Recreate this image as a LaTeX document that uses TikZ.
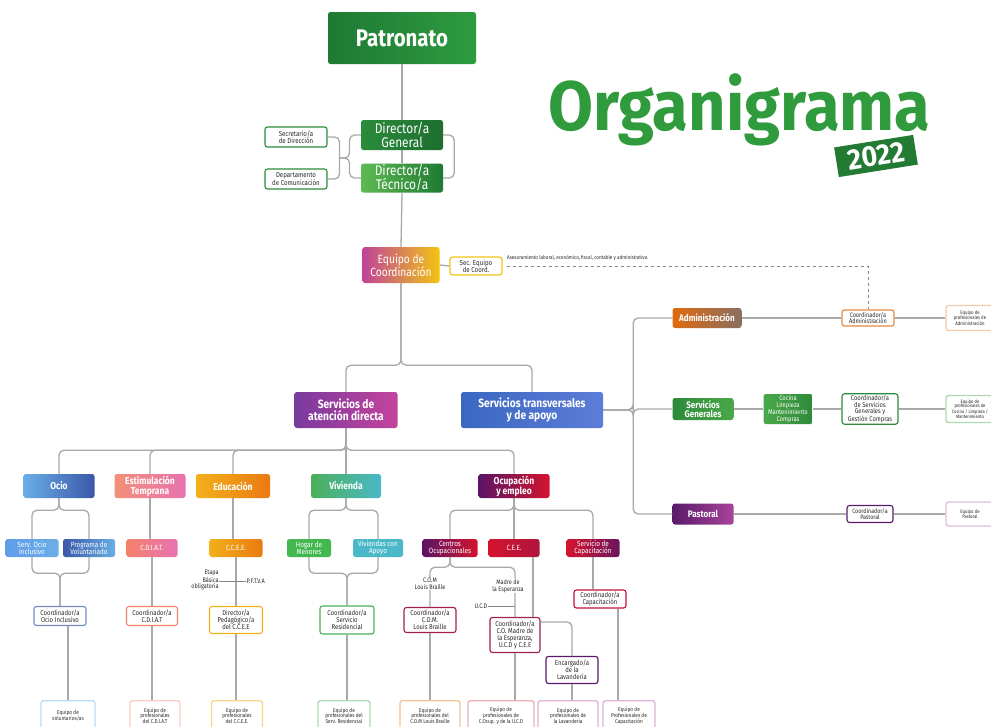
\documentclass[tikz,border=0pt]{standalone}
\usepackage{fontspec}
\setmainfont{Fira Sans}
\newfontfamily\cond[FakeStretch=0.85]{Fira Sans}
\newfontfamily\bigf[FakeStretch=0.93]{Fira Sans}
\usetikzlibrary{calc}
\definecolor{lineg}{HTML}{A9A9A9}
\definecolor{txt}{HTML}{2A2A2A}
\definecolor{patA}{HTML}{1E7A33}
\definecolor{patB}{HTML}{2E9B3F}
\definecolor{dgA}{HTML}{2A8C3B}
\definecolor{dgB}{HTML}{1E6E30}
\definecolor{dtA}{HTML}{5DBA52}
\definecolor{dtB}{HTML}{1F7A32}
\definecolor{orgG}{HTML}{2F9B3C}
\definecolor{yrG}{HTML}{237A32}
\definecolor{eqA}{HTML}{C0449A}
\definecolor{eqB}{HTML}{F2C412}
\definecolor{sadA}{HTML}{7A3A9E}
\definecolor{sadB}{HTML}{C4449C}
\definecolor{stA}{HTML}{3A68C0}
\definecolor{stB}{HTML}{5C7CD8}
\definecolor{admA}{HTML}{E06A10}
\definecolor{admB}{HTML}{8A6E62}
\definecolor{sgA}{HTML}{2E8A3A}
\definecolor{sgB}{HTML}{4AA84A}
\definecolor{pasA}{HTML}{5A1A6A}
\definecolor{pasB}{HTML}{A8449A}
\definecolor{ocA}{HTML}{6AAEE6}
\definecolor{ocB}{HTML}{3A58A8}
\definecolor{estA}{HTML}{F29078}
\definecolor{estB}{HTML}{E872B0}
\definecolor{eduA}{HTML}{F2B01A}
\definecolor{eduB}{HTML}{EA7A12}
\definecolor{vivA}{HTML}{4CAF5A}
\definecolor{vivB}{HTML}{4AB8C8}
\definecolor{ocuA}{HTML}{5A1466}
\definecolor{ocuB}{HTML}{D4142E}
\definecolor{redc}{HTML}{A02050}
\tikzset{
  conn/.style={draw=lineg, line width=1.3pt, rounded corners=5pt},
  hb/.style={rounded corners=2.5pt, text=white, align=center, inner sep=1pt},
  wb/.style={draw, fill=white, rounded corners=2.5pt, line width=1.1pt, align=center, inner sep=1pt, text=txt},
  eb/.style={wb, line width=1.4pt, anchor=north, minimum height=30, font=\cond\fontsize{5.6}{5.8}\selectfont},
  fh/.style={font=\cond\bfseries\fontsize{#1}{#1}\selectfont},
  fr/.style={font=\cond\fontsize{#1}{#1}\selectfont},
  lbl/.style={fill=white, inner sep=0.5pt, align=center, text=txt, font=\cond\fontsize{6.5}{6.5}\selectfont}
}
\begin{document}
\begin{tikzpicture}[x=1pt,y=-1pt]
\useasboundingbox (0,0) rectangle (991,726);
\fill[white] (0,0) rectangle (991,726);

% ---------- title
\node[text=orgG, font=\bigf\bfseries\fontsize{70}{70}\selectfont, anchor=base west, inner sep=0] (title) at (548,130) {Organigrama};
\node[fill=yrG, text=white, rotate=9, minimum width=80, minimum height=30, inner sep=0, font=\bigf\bfseries\fontsize{29}{29}\selectfont] (year) at (876,156) {2022};

% ---------- top
\node[hb, left color=patA, right color=patB, minimum width=148, minimum height=52, fh=24] (pat) at (402,38) {Patronato};
\node[hb, left color=dgA, right color=dgB, minimum width=82, minimum height=30, fr=14] (dg) at (402,135) {Director/a\\General};
\node[hb, left color=dtA, right color=dtB, minimum width=82, minimum height=29, fr=14] (dt) at (402,178) {Director/a\\Técnico/a};
\node[wb, draw=dgA, minimum width=62, minimum height=20, fr=7.2] (secr) at (296,137) {Secretario/a\\de Dirección};
\node[wb, draw=dgA, minimum width=62, minimum height=20, fr=7.2] (depto) at (296,179) {Departamento\\de Comunicación};

\node[hb, left color=eqA, right color=eqB, minimum width=77, minimum height=36, fr=12] (eqc) at (401,265) {Equipo de\\Coordinación};
\node[wb, draw=eqB, minimum width=52, minimum height=18, fr=7.2] (seceq) at (476,266) {Sec. Equipo\\de Coord.};
\node[anchor=west, inner sep=0, text=txt, font=\cond\fontsize{5.4}{5.4}\selectfont] (ases) at (507,258) {Asesoramiento laboral, económico, fiscal, contable y administrativo.};

\node[hb, left color=sadA, right color=sadB, minimum width=103, minimum height=36, fh=12] (sad) at (346,410) {Servicios de\\atención directa};
\node[hb, left color=stA, right color=stB, minimum width=142, minimum height=36, fh=12] (st) at (532,410) {Servicios transversales\\y de apoyo};

% ---------- right branch
\node[hb, left color=admA, right color=admB, minimum width=69, minimum height=20, fh=9.5] (adm) at (707,318) {Administración};
\node[wb, draw=admA!80, minimum width=52, minimum height=16, fr=6.5] (coordadm) at (868,318) {Coordinador/a\\Administración};
\node[wb, draw=admA!35, line width=1.4pt, minimum width=48, minimum height=25, fr=5] (eqadm) at (970,318) {Equipo de\\profesionales de\\Administración};

\node[hb, left color=sgA, right color=sgB, minimum width=61, minimum height=22, fh=9.5] (sg) at (703,409) {Servicios\\Generales};
\node[hb, left color=sgB, right color=sgA, minimum width=49, minimum height=30, fr=6.8] (coc) at (788,409) {Cocina\\Limpieza\\Mantenimiento\\Compras};
\node[wb, draw=sgA, minimum width=56, minimum height=30, fr=6.8] (coordsg) at (870,409) {Coordinador/a\\de Servicios\\Generales y\\Gestión Compras};
\node[wb, draw=sgB!45, line width=1.4pt, minimum width=48, minimum height=27, fr=4.8] (eqsg) at (970,409) {Equipo de\\profesionales de\\Cocina / Limpieza /\\Mantenimiento};

\node[hb, left color=pasA, right color=pasB, minimum width=61, minimum height=21, fh=9.5] (past) at (703,514) {Pastoral};
\node[wb, draw=pasA, minimum width=46, minimum height=17, fr=6.3] (coordpast) at (870,514) {Coordinador/a\\Pastoral};
\node[wb, draw=pasB!35, line width=1.4pt, minimum width=48, minimum height=24, fr=5] (eqpast) at (970,514) {Equipo de\\Pastoral};

% ---------- level 3
\node[hb, left color=ocA, right color=ocB, minimum width=71, minimum height=24, fh=10] (ocio) at (59,486) {Ocio};
\node[hb, left color=estA, right color=estB, minimum width=71, minimum height=24, fh=10] (est) at (150,486) {Estimulación\\Temprana};
\node[hb, left color=eduA, right color=eduB, minimum width=74, minimum height=24, fh=10] (edu) at (233,486) {Educación};
\node[hb, left color=vivA, right color=vivB, minimum width=70, minimum height=24, fh=10] (viv) at (346,486) {Vivienda};
\node[hb, left color=ocuA, right color=ocuB, minimum width=71, minimum height=24, fh=10] (ocu) at (514,486) {Ocupación\\y empleo};

% ---------- level 4
\node[hb, left color=ocA!90!blue, right color=ocA, minimum width=53, minimum height=18, fr=7.5] (servocio) at (32,548) {Serv. Ocio\\Inclusivo};
\node[hb, left color=ocB, right color=ocA, minimum width=52, minimum height=18, fr=7.5] (progvol) at (89,548) {Programa de\\Voluntariado};
\node[hb, left color=estA!90!red, right color=estB, minimum width=51, minimum height=18, fr=7.5] (cdiat) at (152,548) {C.D.I.A.T.};
\node[hb, left color=eduA, right color=eduB, minimum width=53, minimum height=18, fr=7.5] (ccee) at (236,548) {C.C.E.E.};
\node[hb, fill=vivA!90!green, minimum width=44, minimum height=18, fr=7.5] (hogar) at (309,548) {Hogar de\\Menores};
\node[hb, fill=vivB, minimum width=50, minimum height=18, fr=7.5] (vivap) at (378,548) {Viviendas con\\Apoyo};
\node[hb, left color=ocuA, right color=ocuB, minimum width=55, minimum height=18, fr=7.5] (co) at (450,548) {Centros\\Ocupacionales};
\node[hb, left color=ocuB, right color=ocuB!70!ocuA, minimum width=51, minimum height=18, fr=7.5] (cee) at (514,548) {C.E.E.};
\node[hb, left color=ocuB, right color=ocuA!85!ocuB, minimum width=53, minimum height=18, fr=7.5] (scap) at (593,548) {Servicio de\\Capacitación};

% ---------- level 5
\node[wb, draw=ocB!70, minimum width=52, minimum height=19, fr=7] (coordocio) at (60,616) {Coordinador/a\\Ocio Inclusivo};
\node[wb, draw=estA!90!red, minimum width=51, minimum height=19, fr=7] (coordcdiat) at (152,616) {Coordinador/a\\C.D.I.A.T};
\node[wb, draw=eduA, minimum width=53, minimum height=27, fr=7] (dirped) at (236,620) {Director/a\\Pedagógico/a\\del C.C.E.E};
\node[wb, draw=vivA, minimum width=54, minimum height=28, fr=7] (coordres) at (347,620) {Coordinador/a\\Servicio\\Residencial};
\node[wb, draw=redc, minimum width=52, minimum height=25, fr=7] (coordcom) at (430,620) {Coordinador/a\\C.O.M.\\Louis Braille};
\node[wb, draw=redc, minimum width=50, minimum height=35, fr=7] (cmadre) at (515,635) {Coordinador/a\\C.O. Madre de\\la Esperanza,\\U.C.D y C.E.E};
\node[wb, draw=pasA, minimum width=52, minimum height=27, fr=7] (lav) at (572,670) {Encargado/a\\de la\\Lavandería};
\node[wb, draw=ocuB!80!ocuA, minimum width=52, minimum height=18, fr=7] (coordcap) at (600,599) {Coordinador/a\\Capacitación};

% ---------- bottom teams
\node[eb, draw=ocA!45, minimum width=54] (eqvol) at (68,700) {Equipo de\\voluntarios/as};
\node[eb, draw=estA!45, minimum width=50] (eqcdiat) at (155,700) {Equipo de\\profesionales\\del C.D.I.A.T};
\node[eb, draw=eduA!50, minimum width=51] (eqccee) at (237,700) {Equipo de\\profesionales\\del C.C.E.E.};
\node[eb, draw=vivA!45, minimum width=52] (eqres) at (344,700) {Equipo de\\profesionales del\\Serv. Residencial};
\node[eb, draw=eduB!45, minimum width=60] (eqcom) at (430,700) {Equipo de\\profesionales del\\C.O.M Louis Braille};
\node[eb, draw=ocuB!35, minimum width=66] (eqcoup) at (501,700) {Equipo de\\profesionales de\\C.Ocup. y de la U.C.D};
\node[eb, draw=pasB!40, minimum width=60] (eqlav) at (568,700) {Equipo de\\profesionales de\\la Lavandería};
\node[eb, draw=pasB!40, minimum width=52] (eqcap) at (629,700) {Equipo de\\Profesionales de\\Capacitación};

% ---------- connectors
\draw[conn] (pat.south) -- (dg.north);
\draw[conn] (dg.south) -- (dt.north);
\draw[conn] (dt.south) -- (eqc.north);
\coordinate (bm) at ($(secr.east)!0.5!(depto.east)+(12,0)$);
\draw[conn] (secr.east) -| (bm);
\draw[conn] (depto.east) -| (bm);
\draw[conn] (bm) -- ++(10,0) |- (dg.west);
\draw[conn] (bm) -- ++(10,0) |- (dt.west);
\draw[conn] (dg.east) -- ++(11,0) |- (dt.east);
\draw[conn] (eqc.east) -- (seceq.west);
\coordinate (dcorner) at (coordadm.north |- seceq.east);
\draw[lineg!80!black, line width=0.6pt, dashed] (seceq.east) ++(4,0) -- (dcorner) -- (coordadm.north);

\draw[conn] (eqc.south) -- ++(0,82) -| (sad.north);
\draw[conn] (eqc.south) -- ++(0,82) -| (st.north);

\draw[conn] (st.east) -- ++(30,0) |- (adm.west);
\draw[conn] (st.east) -- ++(30,0) |- (sg.west);
\draw[conn] (st.east) -- ++(30,0) |- (past.west);
\draw[conn] (adm.east) -- (coordadm.west);
\draw[conn] (coordadm.east) -- (eqadm.west);
\draw[conn] (sg.east) -- (coc.west);
\draw[conn] (coc.east) -- (coordsg.west);
\draw[conn] (coordsg.east) -- (eqsg.west);
\draw[conn] (past.east) -- (coordpast.west);
\draw[conn] (coordpast.east) -- (eqpast.west);

\foreach \n in {ocio,est,edu,viv,ocu}{
  \draw[conn] (sad.south) -- ++(0,22) -| (\n.north);
}

\draw[conn] (ocio.south) -- ++(0,12) -| (servocio.north);
\draw[conn] (ocio.south) -- ++(0,12) -| (progvol.north);
\draw[conn] (servocio.south) -- ++(0,16) -| (coordocio.north);
\draw[conn] (progvol.south) -- ++(0,16) -| (coordocio.north);
\draw[conn] (eqvol.north |- coordocio.south) -- (eqvol.north);

\draw[conn] (est.south) -- (est.south |- cdiat.north);
\draw[conn] (cdiat.south) -- (coordcdiat.north);
\draw[conn] (coordcdiat.south) -- (coordcdiat.south |- eqcdiat.north);

\draw[conn] (edu.south) -- (edu.south |- ccee.north);
\draw[conn] (ccee.south) -- (dirped.north);
\draw[conn] (dirped.south) -- (dirped.south |- eqccee.north);

\draw[conn] (viv.south) -- ++(0,12) -| (hogar.north);
\draw[conn] (viv.south) -- ++(0,12) -| (vivap.north);
\draw[conn] (hogar.south) -- ++(0,16) -| (coordres.north);
\draw[conn] (vivap.south) -- ++(0,16) -| (coordres.north);
\draw[conn] (coordres.south) -- (coordres.south |- eqres.north);

\draw[conn] (ocu.south) -- ++(0,12) -| (co.north);
\draw[conn] (ocu.south) -- (cee.north);
\draw[conn] (ocu.south) -- ++(0,12) -| (scap.north);
\draw[conn] (co.south) -- ++(0,10) -| (coordcom.north);
\draw[conn] (co.south) -- ++(0,10) -| (cmadre.north);
\coordinate (ceeo) at ($(cee.south)+(19,0)$);
\draw[conn] (ceeo) -- (ceeo |- cmadre.north);
\draw[conn] (coordcom.south) -- (coordcom.south |- eqcom.north);
\draw[conn] (cmadre.south) -- (cmadre.south |- eqcoup.north);
\draw[conn] ($(cmadre.north east)+(0,5)$) -| (lav.north);
\draw[conn] (lav.south) -- (lav.south |- eqlav.north);
\draw[conn] (scap.south) -- (scap.south |- coordcap.north);
\coordinate (capo) at ($(coordcap.south)+(18,0)$);
\draw[conn] (capo) -- (capo |- eqcap.north);

% ---------- labels on lines
\node[lbl, align=right] (etapa) at (205,580) {Etapa\\Básica\\obligatoria};
\node[lbl, anchor=west] (pftva) at (246,581) {P.F.T.V.A};
\draw[lineg!80!black, line width=0.7pt] (etapa.east |- pftva.west) -- (pftva.west);
\node[lbl] (lcom) at (430,584) {C.O.M\\Louis Braille};
\node[lbl] (lmadre) at (508,586) {Madre de\\la Esperanza};
\node[lbl, fill=none, anchor=east] (ucd) at (488,606) {U.C.D};
\draw[lineg!80!black, line width=0.7pt] (ucd.east) -- (ucd.east -| cmadre.north);
\end{tikzpicture}
\end{document}
